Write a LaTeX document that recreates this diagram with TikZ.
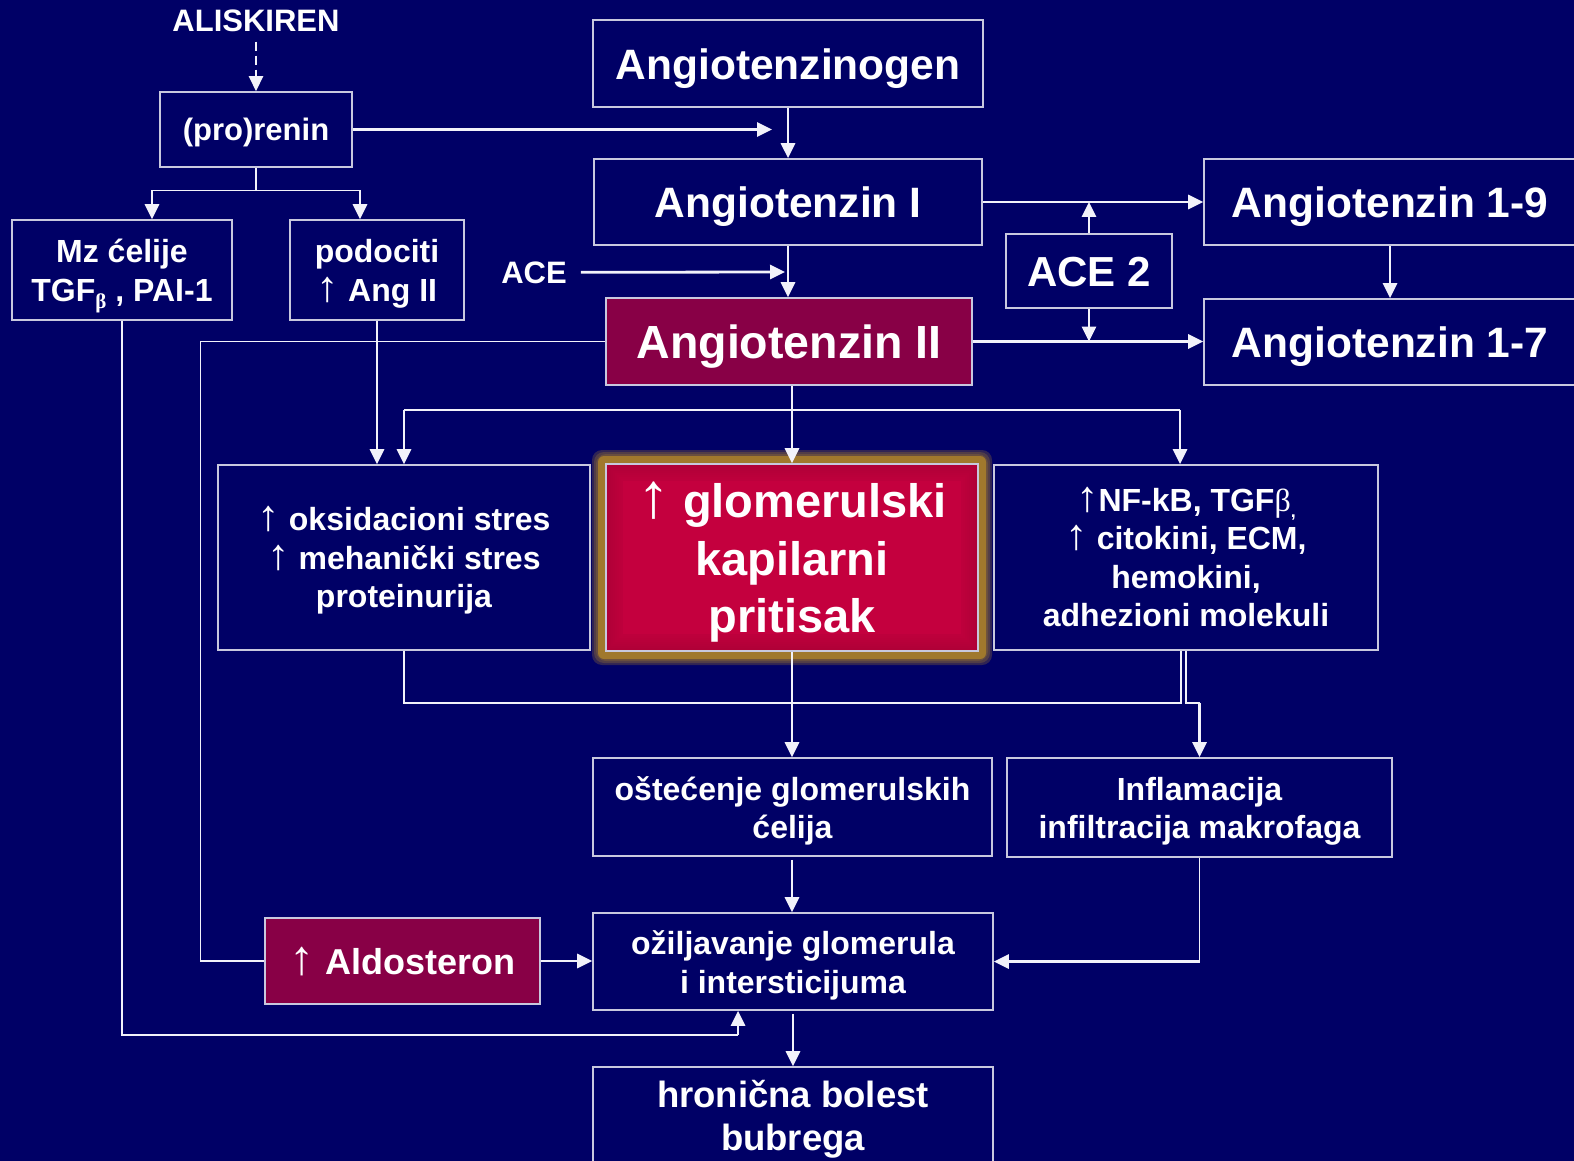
\documentclass[tikz,border=0pt]{standalone}
\usepackage{fontspec}
\usepackage{graphicx}
\setmainfont{Liberation Sans}
\newfontfamily\symfont{Liberation Serif}
\usetikzlibrary{arrows.meta}
\definecolor{bg}{RGB}{0,0,102}
\definecolor{edge}{RGB}{200,200,222}
\definecolor{wire}{RGB}{242,242,250}
\definecolor{maroon}{RGB}{136,0,70}
\definecolor{crimson}{RGB}{196,0,62}
\definecolor{halo}{RGB}{160,120,45}
% tall thin serif arrow used in the labels
\newcommand\up{{\symfont\mdseries\scalebox{1.4}[1.35]{↑}}}
% box given by its corners: name, x1, y1, x2, y2, style
\newcommand\panel[6]{\node[#6, minimum width={#4-#2}, minimum height={#5-#3}] (#1) at ({(#2+#4)/2},{(#3+#5)/2}) {};}

\begin{document}
\begin{tikzpicture}[x=1pt,y=-1pt,
  box/.style={draw=edge, line width=1.6pt, inner sep=0pt, fill=bg},
  hot/.style={box, fill=maroon},
  glowbox/.style={box, fill=crimson},
  tl/.style={anchor=base, inner sep=0pt, text=white, font=\bfseries\fontsize{#1}{#1}\selectfont},
  conn/.style={draw=wire, line width=1.8pt},
  arr/.style={draw=wire, line width=2.8pt, -{Triangle[length=15pt,width=14pt]}},
  dasharr/.style={arr, line width=2.6pt, dash pattern=on 9pt off 5pt},
]
\fill[bg] (0,0) rectangle (1574,1161);
\useasboundingbox (0,0) rectangle (1574,1161);

% golden halo around the capillary pressure box
\foreach \e in {14,12,10}
  \fill[halo, opacity=0.3, rounded corners=10pt] ({606-\e},{464-\e}) rectangle ({978+\e},{651+\e});
\fill[halo, rounded corners=6pt] (598,456) rectangle (986,659);

% boxes
\panel{pren}{160}{92}{352}{167}{box}
\panel{agen}{593}{20}{983}{107}{box}
\panel{angI}{594}{159}{982}{245}{box}
\panel{angII}{606}{298}{972}{385}{hot}
\panel{acetwo}{1006}{234}{1172}{308}{box}
\panel{anga}{1204}{159}{1576}{245}{box}
\panel{angb}{1204}{299}{1576}{385}{box}
\panel{mz}{12}{220}{232}{320}{box}
\panel{podo}{290}{220}{464}{320}{box}
\panel{oks}{218}{465}{590}{650}{box}
\panel{glom}{606}{464}{978}{651}{glowbox}
\panel{nfkb}{994}{465}{1378}{650}{box}
\panel{ostec}{593}{758}{992}{856}{box}
\panel{infl}{1007}{758}{1392}{857}{box}
\panel{aldo}{265}{918}{540}{1004}{hot}
\panel{ozilj}{593}{913}{993}{1010}{box}
\panel{hron}{593}{1067}{993}{1180}{box}

% darker rim inside the capillary pressure box
\foreach \d/\o in {2/0.10,4/0.09,6/0.08,8/0.07,10/0.06,12/0.05,14/0.04,16/0.03}
  \draw[black, opacity=\o, line width=2pt] ({606+\d},{464+\d}) rectangle ({978-\d},{651-\d});
\draw[edge, line width=1.3pt] (glom.south west) rectangle (glom.north east);

% labels
\node[tl=31] (tAlis) at (256,32) {ALISKIREN};
\node[tl=31] (tPren) at (256,141) {(pro)renin};
\node[tl=42.5] (tAgen) at (788,79.5) {Angiotenzinogen};
\node[tl=42.5] (tAngI) at (788,217.5) {Angiotenzin I};
\node[tl=31] (ace) at (534,283) {ACE};
\node[tl=46.5] (tAngII) at (789,358) {Angiotenzin II};
\node[tl=42] (tAce2) at (1089,286.5) {ACE 2};
\node[tl=42.5] (tAnga) at (1390,217.5) {Angiotenzin 1-9};
\node[tl=42.5] (tAngb) at (1390,357.5) {Angiotenzin 1-7};
\node[tl=32] (tMza) at (122,262.5) {Mz ćelije};
\node[tl=32] (tMzb) at (122,301.5) {TGF\raisebox{-7pt}{\symfont\fontsize{21}{21}\selectfont β} , PAI-1};
\node[tl=32] (tPoa) at (377,262) {podociti};
\node[tl=32] (tPob) at (377,301.5) {\up{} Ang II};
\node[tl=32] (tOka) at (404,530.5) {\up{} oksidacioni stres};
\node[tl=32] (tOkb) at (404,569) {\up{} mehanički stres};
\node[tl=32] (tOkc) at (404,607.5) {proteinurija};
\node[tl=47] (tGla) at (792,517) {\up{} glomerulski};
\node[tl=47] (tGlb) at (792,575) {kapilarni};
\node[tl=47] (tGlc) at (792,632.5) {pritisak};
\node[tl=32] (tNfa) at (1186,511.5) {\up NF-kB, TGF{\symfont\mdseries β}\raisebox{-6pt}{\fontsize{18}{18}\selectfont ,}};
\node[tl=32] (tNfb) at (1186,549) {\up{} citokini, ECM,};
\node[tl=32] (tNfc) at (1186,588) {hemokini,};
\node[tl=32] (tNfd) at (1186,626) {adhezioni molekuli};
\node[tl=32] (tOsa) at (792.5,800) {oštećenje glomerulskih};
\node[tl=32] (tOsb) at (792.5,838.5) {ćelija};
\node[tl=32] (tIna) at (1199.5,800) {Inflamacija};
\node[tl=32] (tInb) at (1199.5,838.5) {infiltracija makrofaga};
\node[tl=36] (tAld) at (402.5,974.5) {\up{} Aldosteron};
\node[tl=32] (tOza) at (793,954.5) {ožiljavanje glomerula};
\node[tl=32] (tOzb) at (793,993) {i intersticijuma};
\node[tl=36.5] (tHra) at (793,1107) {hronična bolest};
\node[tl=36.5] (tHrb) at (793,1150) {bubrega};

% renin-angiotensin cascade
\draw[dasharr, shorten <=9pt] (tAlis.south) -- (pren.north);
\coordinate (rj) at (772,129.5);
\draw[arr] (pren.east) -- (rj);
\draw[arr] (agen.south) -- (angI.north);
\coordinate (sL) at (152,190.5);
\coordinate (sR) at (360,190.5);
\draw[conn] (pren.south) -- (pren.south |- sL);
\draw[conn] (sL) -- (sR);
\draw[arr] (sL) -- (sL |- mz.north);
\draw[arr] (sR) -- (sR |- podo.north);
\coordinate (aceTip) at (785,272);
\draw[arr, shorten <=14pt] (ace.east) -- (aceTip);
\draw[arr] (angI.south) -- (angI.south |- angII.north);
\draw[arr] (angI.east) -- (anga.west);
\draw[arr] (angII.east) -- (angII.east -| angb.west);
\draw[arr] (acetwo.north) -- (acetwo.north |- angI.east);
\draw[arr] (acetwo.south) -- (acetwo.south |- angII.east);
\draw[arr] (anga.south) -- (angb.north);

% angiotensin II to aldosterone
\coordinate (lw) at (200.5,341.5);
\draw[conn] (angII.west) -- (lw) |- (aldo.west);
\draw[arr] (aldo.east) -- (aldo.east -| ozilj.west);

% angiotensin II effects
\coordinate (hub) at (792,410);
\coordinate (hL) at (404,410);
\coordinate (hR) at (1180,410);
\draw[conn] (angII.south -| hub) -- (hub);
\draw[conn] (hL) -- (hR);
\draw[arr] (hub) -- (hub |- glom.north);
\draw[arr] (hL) -- (hL |- oks.north);
\draw[arr] (hR) -- (hR |- nfkb.north);
\draw[arr] (podo.south) -- (podo.south |- oks.north);

% mesangial cells feedback to scarring
\coordinate (mzB) at (738,1035);
\draw[conn] (mz.south) |- (mzB);
\draw[arr] (mzB) -- (mzB |- ozilj.south);

% convergence towards injury and inflammation
\coordinate (mC) at (792,703);
\coordinate (mR) at (1181,703);
\draw[conn] (oks.south) |- (mR) -- (mR |- nfkb.south);
\draw[conn] (glom.south -| mC) -- (mC);
\draw[arr] (mC) -- (mC |- ostec.north);
\coordinate (iA) at (1186,703);
\coordinate (iB) at (1199.5,703);
\draw[conn] (iA |- nfkb.south) -- (iA) -- (iB);
\draw[arr] (iB) -- (infl.north);

% towards chronic kidney disease
\draw[arr, shorten <=3pt] (ostec.south -| mC) -- (mC |- ozilj.north);
\coordinate (iC) at (1199.5,961.5);
\draw[conn] (infl.south) -- (iC);
\draw[arr] (iC) -- (ozilj.east);
\draw[arr, shorten <=3pt] (ozilj.south) -- (hron.north);
\end{tikzpicture}
\end{document}
